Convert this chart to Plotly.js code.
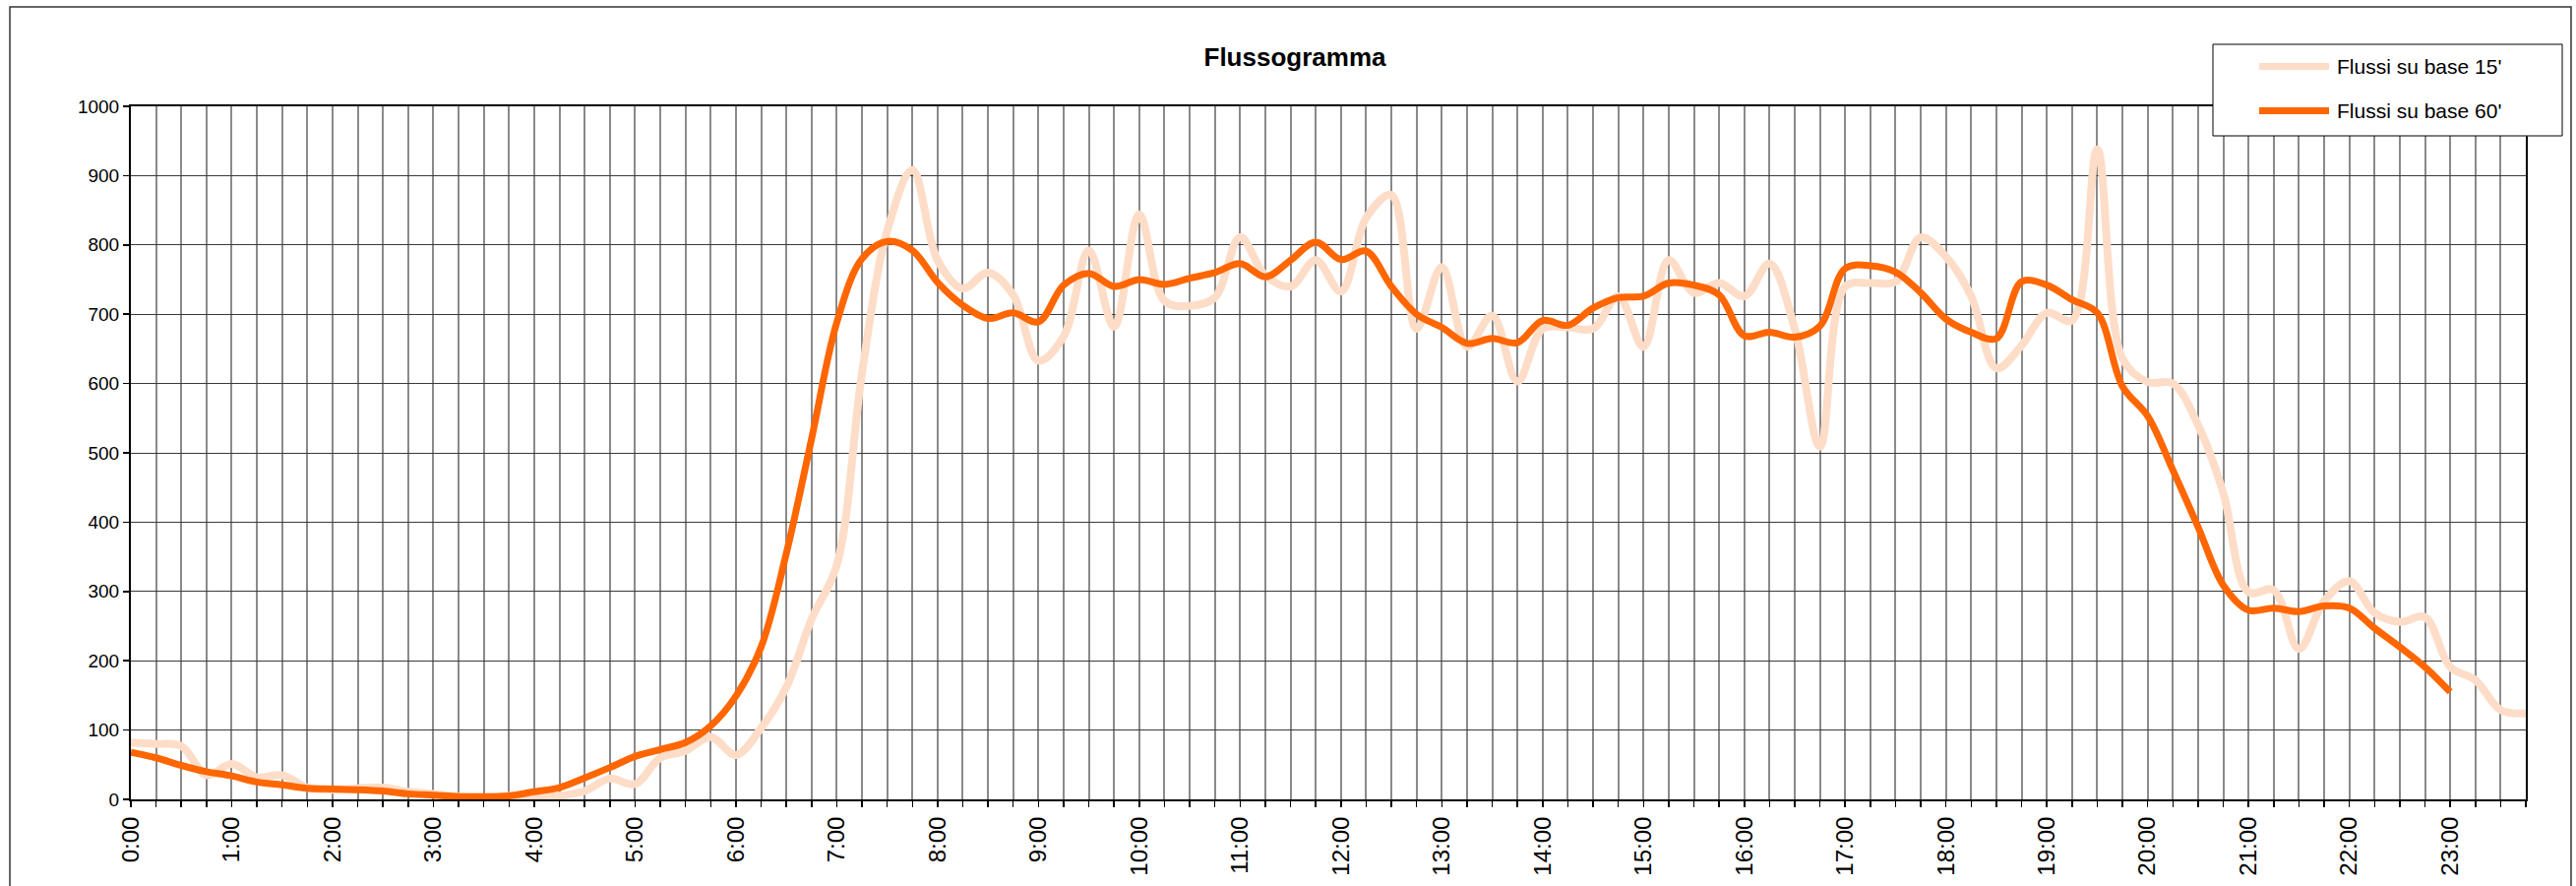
<!DOCTYPE html>
<html>
<head>
<meta charset="utf-8">
<script src="https://cdn.plot.ly/plotly-3.0.1.min.js"></script>
<style>html,body{margin:0;padding:0;background:#fff;}#chart{width:2618px;height:900px;}</style>
</head>
<body>
<div id="chart"></div>
<script>
// Categories: 15-minute time slots
const times = ["0:00","0:15","0:30","0:45","1:00","1:15","1:30","1:45","2:00","2:15","2:30","2:45",
"3:00","3:15","3:30","3:45","4:00","4:15","4:30","4:45","5:00","5:15","5:30","5:45",
"6:00","6:15","6:30","6:45","7:00","7:15","7:30","7:45","8:00","8:15","8:30","8:45",
"9:00","9:15","9:30","9:45","10:00","10:15","10:30","10:45","11:00","11:15","11:30","11:45",
"12:00","12:15","12:30","12:45","13:00","13:15","13:30","13:45","14:00","14:15","14:30","14:45",
"15:00","15:15","15:30","15:45","16:00","16:15","16:30","16:45","17:00","17:15","17:30","17:45",
"18:00","18:15","18:30","18:45","19:00","19:15","19:30","19:45","20:00","20:15","20:30","20:45",
"21:00","21:15","21:30","21:45","22:00","22:15","22:30","22:45","23:00","23:15","23:30","23:45"];

// Hour labels shown on the axis
const hourLabels = ["0:00","1:00","2:00","3:00","4:00","5:00","6:00","7:00","8:00","9:00","10:00","11:00",
"12:00","13:00","14:00","15:00","16:00","17:00","18:00","19:00","20:00","21:00","22:00","23:00"];

// Flussi su base 15'
const flussi15 = [82,80,77,35,51,32,35,17,14,16,17,11,
8,4,3,5,3,5,12,30,22,60,70,90,
64,103,162,260,338,615,820,908,778,737,760,728,
633,668,792,682,844,719,712,724,811,756,740,778,
733,839,872,679,768,653,698,603,679,681,679,726,
653,778,731,745,726,773,679,509,740,745,747,811,
783,726,622,655,702,691,938,636,602,600,540,442,
299,302,217,286,315,269,256,263,191,172,129,124];

// Flussi su base 60' (0:00 .. 23:00)
const flussi60 = [68,60,49,40,34,25,21,16,15,14,12,8,
6,4,4,5,11,17,31,46,62,72,82,106,
149,220,355,520,688,780,805,792,746,713,694,702,
689,742,759,740,750,743,752,760,773,754,778,804,
779,791,740,700,681,658,665,659,691,684,709,724,
726,745,742,728,669,674,667,683,766,770,761,731,
693,674,665,747,742,721,702,596,553,475,393,309,
273,276,271,279,276,247,220,191,155];

const yTicks = [0,100,200,300,400,500,600,700,800,900,1000];

const seriesNames = ["Flussi su base 15'", "Flussi su base 60'"];
const lightColor = '#FDDDC8';
const darkColor = '#FF6600';

// plot-area pixel geometry
const L = 133, R = 2567, T = 108, B = 812;
const px = v => (v - L) / (R - L);
const py = v => (B - v) / (B - T);

const ticktext = times.map(t => hourLabels.includes(t) ? t : '');

const traces = [
  {x: times, y: flussi15, type: 'scatter', mode: 'lines', name: seriesNames[0],
   line: {color: lightColor, width: 8, shape: 'spline', smoothing: 1}, showlegend: false},
  {x: times.slice(0, flussi60.length), y: flussi60, type: 'scatter', mode: 'lines', name: seriesNames[1],
   line: {color: darkColor, width: 7, shape: 'spline', smoothing: 1}, showlegend: false}
];

const font = 'Liberation Sans, Arial, sans-serif';

const layout = {
  width: 2618, height: 900,
  margin: {l: L, r: 2618 - R, t: T, b: 900 - B, pad: 0},
  paper_bgcolor: '#fff', plot_bgcolor: '#fff',
  font: {family: font, color: '#000'},
  title: {text: '<b>Flussogramma</b>', font: {family: font, size: 26, color: '#000'},
          xref: 'container', x: 1316 / 2618, xanchor: 'center', yref: 'container', y: 1 - 58 / 900, yanchor: 'middle'},
  xaxis: {type: 'category', range: [0, times.length - 1], tickmode: 'array', tickvals: times, ticktext: ticktext,
          tickangle: -90, tickfont: {family: font, size: 24, color: '#000'},
          ticks: 'outside', ticklen: 6, tickwidth: 1.5, tickcolor: '#000',
          showgrid: true, gridcolor: '#8a8a8a', gridwidth: 2,
          showline: true, linecolor: '#000', linewidth: 2, mirror: true, zeroline: false, fixedrange: true},
  yaxis: {range: [0, 1000], tickmode: 'array', tickvals: yTicks,
          tickfont: {family: font, size: 19, color: '#000'},
          ticks: 'outside', ticklen: 6, tickwidth: 1.5, tickcolor: '#000',
          showgrid: true, gridcolor: '#3a3a3a', gridwidth: 1,
          showline: true, linecolor: '#000', linewidth: 2, mirror: true, zeroline: false, fixedrange: true},
  shapes: [
    // chart-area frame
    {type: 'rect', xref: 'paper', yref: 'paper', x0: px(10), x1: px(2613), y0: py(910), y1: py(7),
     line: {color: '#333', width: 1.5}, fillcolor: 'rgba(0,0,0,0)', layer: 'below'},
    // legend box
    {type: 'rect', xref: 'paper', yref: 'paper', x0: px(2249), x1: px(2604), y0: py(138), y1: py(45),
     line: {color: '#000', width: 1}, fillcolor: '#fff', layer: 'above'},
    {type: 'line', xref: 'paper', yref: 'paper', x0: px(2296), x1: px(2367), y0: py(67.5), y1: py(67.5),
     line: {color: lightColor, width: 7}, layer: 'above'},
    {type: 'line', xref: 'paper', yref: 'paper', x0: px(2296), x1: px(2367), y0: py(112.5), y1: py(112.5),
     line: {color: darkColor, width: 7}, layer: 'above'}
  ],
  annotations: [
    {xref: 'paper', yref: 'paper', x: px(2373), y: py(68), xanchor: 'left', yanchor: 'middle', showarrow: false,
     text: seriesNames[0], font: {family: font, size: 21, color: '#000'}},
    {xref: 'paper', yref: 'paper', x: px(2373), y: py(113), xanchor: 'left', yanchor: 'middle', showarrow: false,
     text: seriesNames[1], font: {family: font, size: 21, color: '#000'}}
  ],
  showlegend: false
};

Plotly.newPlot('chart', traces, layout, {displayModeBar: false, staticPlot: true});
</script>
</body>
</html>
